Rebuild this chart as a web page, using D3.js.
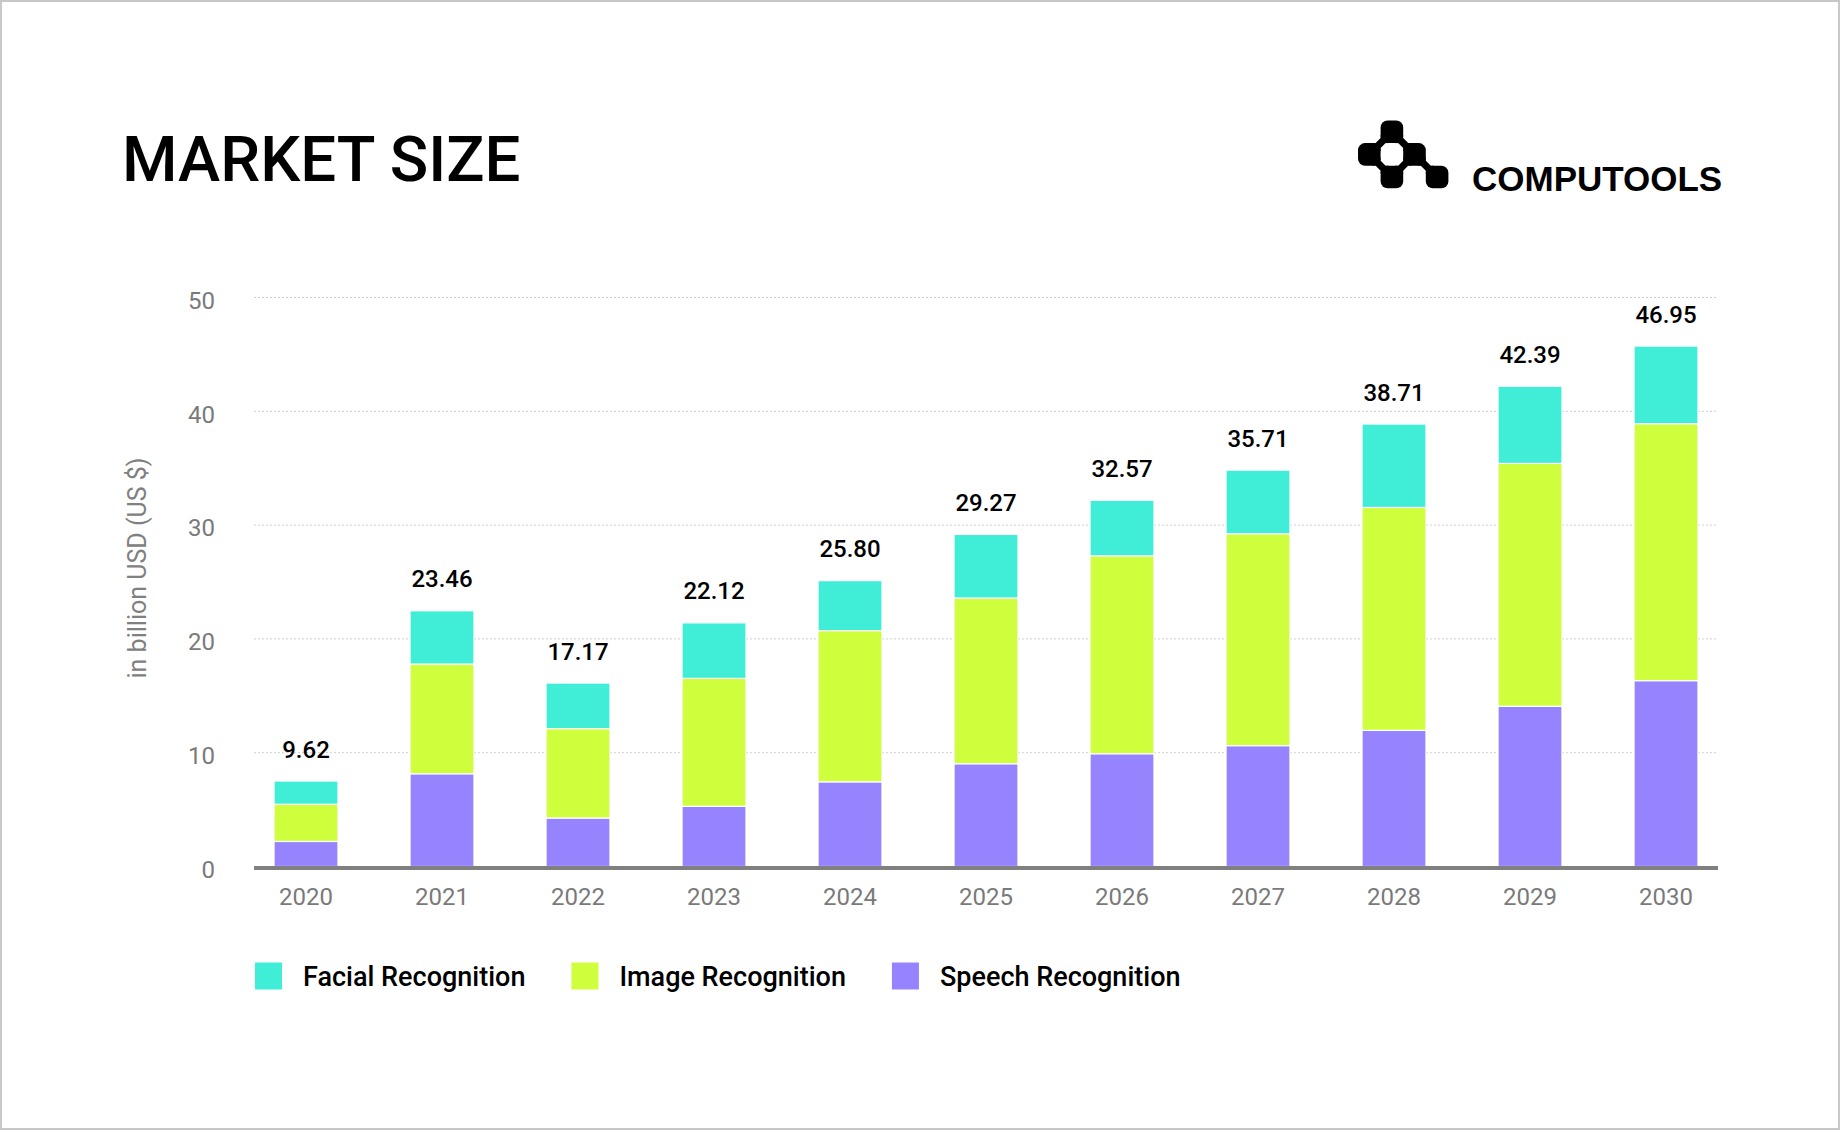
<!DOCTYPE html>
<html>
<head>
<meta charset="utf-8">
<script src="https://cdn.jsdelivr.net/npm/d3@7/dist/d3.min.js"></script>
<style>
  html, body { margin: 0; padding: 0; background: #fff; }
  svg { display: block; }
</style>
</head>
<body>
<svg id="chart" width="1840" height="1130"></svg>
<script>
// ---------- DATA ----------
const years = ["2020","2021","2022","2023","2024","2025","2026","2027","2028","2029","2030"];
const speechRecognition = [2.20, 8.15, 4.26, 5.29, 7.44, 9.03, 9.91, 10.62, 11.96, 14.08, 16.33];
const imageRecognition  = [3.27, 9.64, 7.86, 11.24, 13.29, 14.56, 17.39, 18.62, 19.59, 21.34, 22.58];
const facialRecognition = [2.04, 4.68, 4.00, 4.88, 4.39, 5.59, 4.88, 5.59, 7.33, 6.78, 6.82];
const totalLabels = ["9.62","23.46","17.17","22.12","25.80","29.27","32.57","35.71","38.71","42.39","46.95"];
const yTicks = [0, 10, 20, 30, 40, 50];
const seriesNames = ["Facial Recognition", "Image Recognition", "Speech Recognition"];
const seriesKeys = ["facial", "image", "speech"];
const seriesColors = ["#40edd6", "#cfff3c", "#9584fd"];

// ---------- SETUP ----------
const svg = d3.select("#chart");
const W = 1840, H = 1130;

svg.append("rect").attr("x", 1).attr("y", 1).attr("width", W - 2).attr("height", H - 2)
  .attr("fill", "#fff").attr("stroke", "#c8c8c8").attr("stroke-width", 2);

const plotLeft = 254, plotRight = 1718;

const x = d3.scaleBand().domain(years).range([238, 1734]).paddingInner(0.53).paddingOuter(0.265);
const y = d3.scaleLinear().domain([0, 50]).range([866.5, 297.5]);
const color = d3.scaleOrdinal().domain(seriesKeys).range(seriesColors);

// ---------- TITLE ----------
svg.append("text").attr("x", 122).attr("y", 181)
  .attr("font-family", "Roboto, 'Open Sans', sans-serif").attr("font-weight", 500)
  .attr("font-size", 63.5).attr("fill", "#000").text("MARKET SIZE");

// ---------- LOGO ----------
const logo = svg.append("g").attr("fill", "#000");
const s = 22.6, lx = 1358, ly = 120.5;
const cells = [[1,0],[0,1],[2,1],[1,2],[3,2]];
cells.forEach(([c, r]) => {
  logo.append("rect").attr("x", lx + c * s).attr("y", ly + r * s)
    .attr("width", s).attr("height", s).attr("rx", 7);
});
const junctions = [[1,1,'a'],[2,1,'d'],[1,2,'d'],[2,2,'a'],[3,2,'d']];
const q = 8;
junctions.forEach(([jc, jr, t]) => {
  const px = lx + jc * s, py = ly + jr * s;
  if (t === 'd') {
    logo.append("rect").attr("x", px - q).attr("y", py - q).attr("width", q).attr("height", q);
    logo.append("rect").attr("x", px).attr("y", py).attr("width", q).attr("height", q);
  } else {
    logo.append("rect").attr("x", px).attr("y", py - q).attr("width", q).attr("height", q);
    logo.append("rect").attr("x", px - q).attr("y", py).attr("width", q).attr("height", q);
  }
  const d = 5;
  logo.append("path").attr("d", `M${px-d},${py}L${px},${py-d}L${px+d},${py}L${px},${py+d}Z`);
});
svg.append("text").attr("x", 1472).attr("y", 191)
  .attr("font-family", "'Liberation Sans', Arial, sans-serif").attr("font-weight", 700)
  .attr("font-size", 35).attr("fill", "#000").text("COMPUTOOLS");

// ---------- GRID ----------
svg.append("g").selectAll("line").data(yTicks.filter(t => t > 0)).join("line")
  .attr("x1", plotLeft).attr("x2", plotRight)
  .attr("y1", d => y(d)).attr("y2", d => y(d))
  .attr("stroke", "#cfcfcf").attr("stroke-width", 1).attr("stroke-dasharray", "2,2");

// ---------- Y AXIS ----------
const yAxis = svg.append("g").attr("transform", `translate(${plotLeft},0)`)
  .call(d3.axisLeft(y).tickValues(yTicks).tickSize(0).tickPadding(39));
yAxis.select(".domain").remove();
yAxis.selectAll("text").attr("font-family", "Roboto, sans-serif").attr("font-size", 24)
  .attr("fill", "#7a7a7a").attr("dy", "0.45em");

svg.append("text")
  .attr("transform", "translate(146,568) rotate(-90)")
  .attr("text-anchor", "middle")
  .attr("font-family", "Roboto, sans-serif").attr("font-size", 25)
  .attr("fill", "#808080").text("in billion USD (US $)");

// ---------- BARS ----------
const rows = years.map((yr, i) => ({
  year: yr, speech: speechRecognition[i], image: imageRecognition[i], facial: facialRecognition[i], label: totalLabels[i]
}));
const stack = d3.stack().keys(["speech", "image", "facial"]);
const stacked = stack(rows);

svg.append("g").selectAll("g").data(stacked).join("g")
  .attr("fill", d => color(d.key))
  .selectAll("rect").data(d => d).join("rect")
  .attr("x", d => x(d.data.year))
  .attr("width", x.bandwidth())
  .attr("y", d => y(d[1]))
  .attr("height", d => y(d[0]) - y(d[1]))
  .attr("stroke", "#fff").attr("stroke-width", 1.2);

// value labels
const topSeries = stacked[stacked.length - 1];
svg.append("g").selectAll("text").data(topSeries).join("text")
  .attr("x", d => x(d.data.year) + x.bandwidth() / 2)
  .attr("y", d => y(d[1]) - 23.5)
  .attr("text-anchor", "middle")
  .attr("font-family", "Roboto, sans-serif").attr("font-weight", 500).attr("font-size", 24)
  .attr("fill", "#000").text(d => d.data.label);

// ---------- X AXIS ----------
svg.append("line").attr("x1", plotLeft).attr("x2", plotRight)
  .attr("y1", 868).attr("y2", 868).attr("stroke", "#808080").attr("stroke-width", 4);

const xAxis = svg.append("g").attr("transform", `translate(0,${y(0)})`)
  .call(d3.axisBottom(x).tickSize(0).tickPadding(21));
xAxis.select(".domain").remove();
xAxis.selectAll("text").attr("font-family", "Roboto, sans-serif").attr("font-size", 24)
  .attr("fill", "#7a7a7a");

// ---------- LEGEND ----------
const legend = svg.append("g");
let lxPos = 255;
seriesNames.forEach((name, i) => {
  legend.append("rect").attr("x", lxPos).attr("y", 962.5).attr("width", 27).attr("height", 27)
    .attr("fill", seriesColors[i]);
  const t = legend.append("text").attr("x", lxPos + 48).attr("y", 986)
    .attr("font-family", "Roboto, sans-serif").attr("font-weight", 500).attr("font-size", 27)
    .attr("fill", "#000").text(name);
  lxPos = lxPos + 48 + t.node().getComputedTextLength() + 46;
});
</script>
</body>
</html>
